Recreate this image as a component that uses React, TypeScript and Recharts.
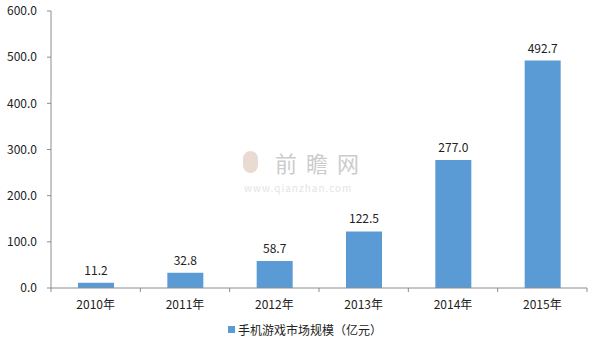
import React from 'react';
import { BarChart, Bar, XAxis, YAxis, LabelList } from 'recharts';

const years = ['2010年', '2011年', '2012年', '2013年', '2014年', '2015年'];
const marketSize = [11.2, 32.8, 58.7, 122.5, 277.0, 492.7];
const yTicks = [0, 100, 200, 300, 400, 500, 600];
const seriesName = '手机游戏市场规模（亿元）';

const data = years.map((year, i) => ({ year, value: marketSize[i] }));

const FONT = '"Noto Sans CJK SC", "DejaVu Sans", sans-serif';
const AXIS = '#8c8c8c';
const BAR = '#5b9bd5';

// category ticks sit on the boundaries between bars, labels in the middle
const XTick = (props: any) => {
  const { x, y, payload, index } = props;
  const band = 536 / years.length;
  return (
    <g>
      {index === 0 && <line x1={x - band / 2} y1={y} x2={x - band / 2} y2={y + 4} stroke={AXIS} />}
      <line x1={x + band / 2} y1={y} x2={x + band / 2} y2={y + 4} stroke={AXIS} />
      <text x={x} y={y + 21} textAnchor="middle" fill="#222" fontSize={12} fontFamily={FONT}>
        {payload.value}
      </text>
    </g>
  );
};

const App: React.FC = () => {
  return (
    <div style={{ position: 'absolute', left: 0, top: 0, width: 600, height: 347, background: '#fff' }}>
      <BarChart width={600} height={347} data={data} margin={{ top: 11, right: 13, left: 0, bottom: 29 }} barSize={36}>
        <XAxis
          dataKey="year"
          axisLine={{ stroke: AXIS }}
          tickLine={false}
          tickSize={0}
          tickMargin={0}
          height={30}
          interval={0}
          tick={<XTick />}
        />
        <YAxis
          width={51}
          domain={[0, 600]}
          ticks={yTicks}
          axisLine={{ stroke: AXIS }}
          tickLine={{ stroke: AXIS }}
          tickSize={4}
          tickMargin={10}
          tickFormatter={(v: number) => v.toFixed(1)}
          tick={{ fill: '#222', fontSize: 12, fontFamily: FONT }}
        />
        <Bar dataKey="value" fill={BAR} isAnimationActive={false}>
          <LabelList
            dataKey="value"
            position="top"
            offset={8}
            formatter={(v: any) => Number(v).toFixed(1)}
            style={{ fill: '#222', fontSize: 12, fontFamily: FONT }}
          />
        </Bar>
      </BarChart>

      {/* watermark */}
      <div style={{ position: 'absolute', left: 243, top: 150, height: 24, display: 'flex', alignItems: 'center', fontFamily: FONT, lineHeight: 1 }}>
        <div style={{ width: 15, height: 22, borderRadius: 8, background: '#eadbd2', marginRight: 17 }} />
        <span style={{ fontSize: 22, color: '#cccccc', letterSpacing: 9, lineHeight: 1 }}>前瞻网</span>
      </div>
      <div style={{ position: 'absolute', left: 244, top: 183, fontSize: 10, letterSpacing: 1, lineHeight: 1, color: '#e4e4e4', fontFamily: FONT }}>
        www.qianzhan.com
      </div>

      {/* legend */}
      <div style={{ position: 'absolute', left: 228, top: 321, display: 'flex', alignItems: 'center', fontFamily: FONT, fontSize: 12, color: '#222' }}>
        <div style={{ width: 7, height: 7, background: BAR, marginRight: 3 }} />
        <span>{seriesName}</span>
      </div>
    </div>
  );
};

export default App;
